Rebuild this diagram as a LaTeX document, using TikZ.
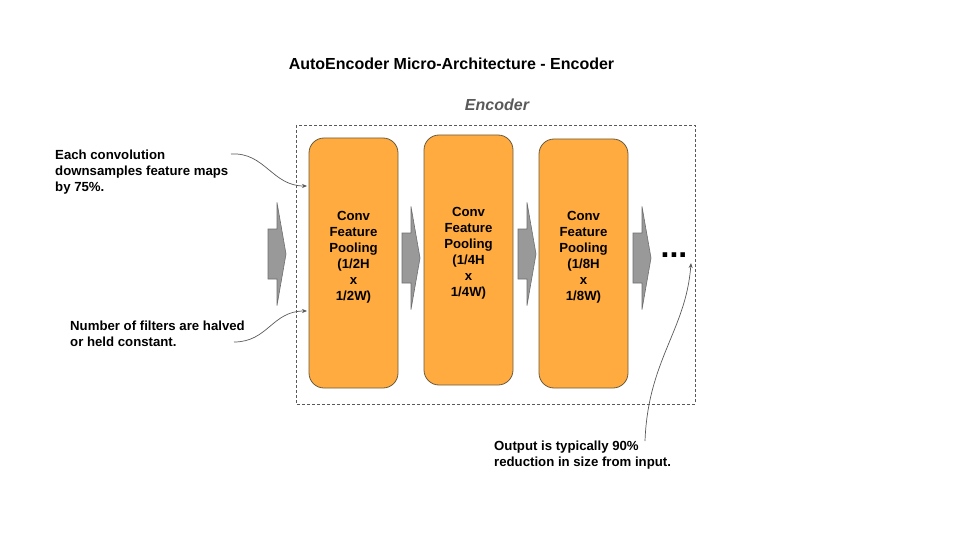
\documentclass[tikz,border=0pt]{standalone}
\usepackage{fontspec}
\setmainfont{Liberation Sans}
\usetikzlibrary{arrows.meta}
\definecolor{boxfill}{HTML}{FFAB40}
\definecolor{boxline}{HTML}{6B5A3E}
\definecolor{garrowfill}{HTML}{999999}
\definecolor{garrowline}{HTML}{6E6E6E}
\definecolor{connline}{HTML}{595959}
\tikzset{
  stage/.style={draw=boxline, fill=boxfill, line width=0.8pt, rounded corners=15pt, minimum width=89pt, inner sep=0pt},
  stagetext/.style={font=\fontsize{13.2}{16}\selectfont\bfseries, align=center, inner sep=0pt},
  note/.style={font=\fontsize{13.2}{16}\selectfont\bfseries, align=left, inner sep=0pt, anchor=west},
  conn/.style={draw=connline, line width=0.7pt, -{Stealth[length=5pt,width=4pt]}},
  garrow/.pic={\draw[fill=garrowfill, draw=garrowline, line width=0.6pt]
     (0,-25) -- (9,-25) -- (9,-51.5) -- (18,0) -- (9,51.5) -- (9,25) -- (0,25) -- cycle;},
}
\begin{document}
\begin{tikzpicture}[x=1pt,y=-1pt]
\useasboundingbox (0,0) rectangle (960,540);
% title
\node[font=\fontsize{16}{19}\selectfont\bfseries] (title) at (451.5,64) {AutoEncoder Micro-Architecture - Encoder};
% encoder group
\draw[draw=connline, dashed, dash pattern=on 3pt off 2pt, line width=0.7pt] (296,125) rectangle (695,404);
\node[font=\fontsize{16}{19}\selectfont\bfseries\itshape, text=connline] (enc) at (497,105) {Encoder};
% stages
\node[stage, minimum height=250pt] (s1) at (353.5,263) {};
\node[stage, minimum height=250pt] (s2) at (468.5,260) {};
\node[stage, minimum height=249pt] (s3) at (583.5,263.5) {};
\node[stagetext] (t1) at (353.5,257) {Conv\\Feature\\Pooling\\(1/2H\\x\\1/2W)};
\node[stagetext] (t2) at (468.5,253) {Conv\\Feature\\Pooling\\(1/4H\\x\\1/4W)};
\node[stagetext] (t3) at (583.5,257) {Conv\\Feature\\Pooling\\(1/8H\\x\\1/8W)};
% block arrows
\pic at (268,254) {garrow};
\pic at (402,258) {garrow};
\pic at (518,254) {garrow};
\pic at (633,258) {garrow};
\node[font=\fontsize{32}{32}\selectfont\bfseries, inner sep=0pt, anchor=base] (dots) at (674,257.5) {...};
% notes
\node[note] (n1) at (55,172) {Each convolution\\downsamples feature maps\\by 75\%.};
\node[note] (n2) at (70,334) {Number of filters are halved\\or held constant.};
\node[note] (n3) at (494,455) {Output is typically 90\%\\reduction in size from input.};
% connectors
\coordinate (c1s) at (231,154);
\coordinate (c1e) at (307,186);
\coordinate (c2s) at (234,342);
\coordinate (c2e) at (307,311);
\coordinate (c3s) at (645,441);
\coordinate (c3e) at (691,263);
\draw[conn] (c1s) .. controls (265,152) and (272,186) .. (c1e);
\draw[conn] (c2s) .. controls (268,342) and (272,311) .. (c2e);
\draw[conn] (c3s) .. controls (648,360) and (686,330) .. (c3e);
\end{tikzpicture}
\end{document}
